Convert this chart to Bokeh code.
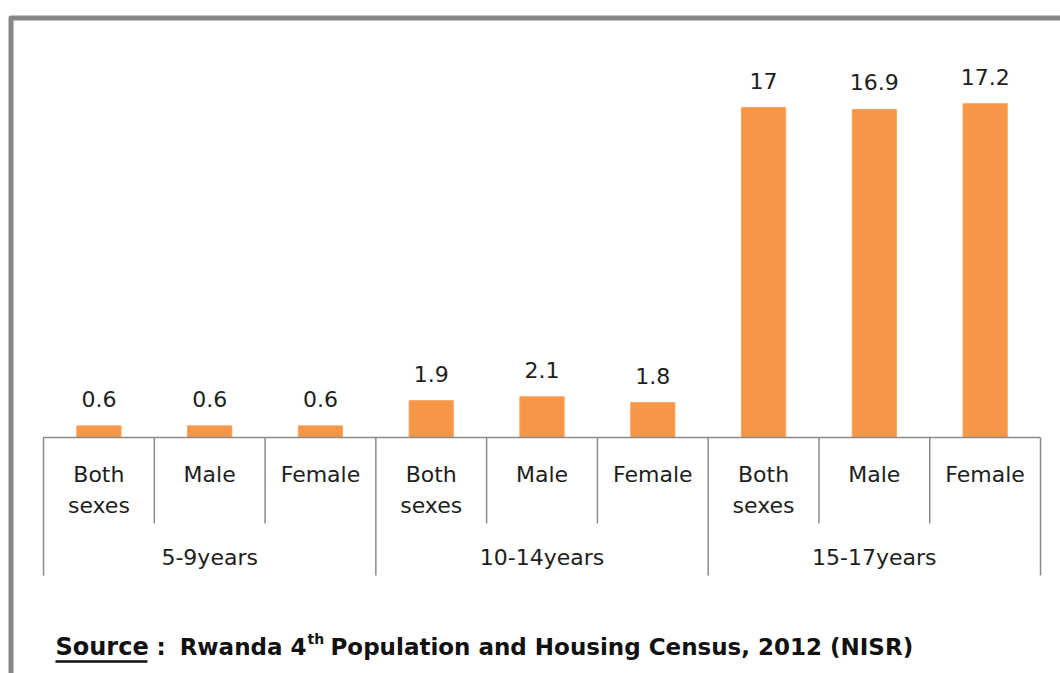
from bokeh.plotting import figure
from bokeh.models import Range1d
from bokeh.core.properties import value
from bokeh.embed import file_html
from bokeh.resources import INLINE

# ---- data ----
groups = ["5-9years", "10-14years", "15-17years"]
sexes = ["Both\nsexes", "Male", "Female"]
values = [0.6, 0.6, 0.6, 1.9, 2.1, 1.8, 17.0, 16.9, 17.2]
value_labels = ["0.6", "0.6", "0.6", "1.9", "2.1", "1.8", "17", "16.9", "17.2"]
source_parts = ["Source", ":", "Rwanda 4", "th", "Population and Housing Census, 2012 (NISR)"]

FONT = "DejaVu Sans"
TXT = "#1e1e1e"
AX = "#8a8a8a"
BAR = "#F79646"

W, H = 1060, 673
OFF = 0  # page offset observed
# pixel mapping: image x = 43 + 110.78*x ; image y = 437 - 19.41*v
PXX, PXY = 110.78, 19.41
x0 = (OFF - 43) / PXX
x1 = (OFF + W - 43) / PXX
y1 = (437 - OFF) / PXY
y0 = (437 - OFF - H) / PXY

p = figure(width=W, height=H, x_range=Range1d(x0, x1), y_range=Range1d(y0, y1),
           x_axis_type=None, y_axis_type=None, toolbar_location=None,
           output_backend="svg", min_border=0)
p.outline_line_color = None
p.background_fill_color = "white"

n = len(values)
xs = [i + 0.5 for i in range(n)]

# frame border (left + top)
bx = (10.5 - 43) / PXX
by = (437 - 17.5) / PXY
p.line([bx, bx, x1 + 1], [y0 - 1, by, by], line_color="#878787", line_width=5, line_join="round")

# bars
p.vbar(x=xs, top=values, bottom=0, width=0.4, fill_color=BAR, line_color="#f8a866", line_width=1)

# value labels
p.text(x=xs, y=values, text=value_labels, text_align="center", text_baseline="bottom",
       y_offset=-19, text_font=value(FONT), text_font_size="22px", text_color=TXT)

# category axis lines
inner_bottom = (437 - 523) / PXY
outer_bottom = (437 - 575) / PXY
p.segment(x0=[0], y0=[0], x1=[n], y1=[0], line_color=AX, line_width=1.5)
inner_x = [i for i in range(n + 1) if i % 3 != 0]
p.segment(x0=inner_x, y0=[0] * len(inner_x), x1=inner_x, y1=[inner_bottom] * len(inner_x),
          line_color=AX, line_width=1.5)
outer_x = [i for i in range(0, n + 1, 3)]
p.segment(x0=outer_x, y0=[0] * len(outer_x), x1=outer_x, y1=[outer_bottom] * len(outer_x),
          line_color=AX, line_width=1.5)

# inner labels
inner_labels = [s for g in groups for s in sexes]
p.text(x=xs, y=[0] * n, text=inner_labels, text_align="center", text_baseline="top",
       y_offset=24, text_font=value(FONT), text_font_size="22px", text_color=TXT,
       text_line_height=1.25)

# outer labels
gx = [3 * k + 1.5 for k in range(len(groups))]
p.text(x=gx, y=[0] * len(groups), text=groups, text_align="center", text_baseline="middle",
       y_offset=557 - 437, text_font=value(FONT), text_font_size="22px", text_color=TXT)

# source line
sy = (437 - 646) / PXY  # text baseline
sx = (55 - 43) / PXX
SF = "DejaVu Sans"
common = dict(text_baseline="alphabetic", text_font=value(SF),
              text_font_style="bold", text_color="#111111")
p.text(x=[sx], y=[sy], text=[source_parts[0]], text_align="left", text_font_size="24px", **common)
p.text(x=[sx], y=[sy], text=[source_parts[1]], text_align="left", x_offset=156 - 55,
       text_font_size="23px", **common)
p.text(x=[sx], y=[sy], text=[source_parts[2]], text_align="right", x_offset=306 - 55,
       text_font_size="23px", **common)
p.text(x=[sx], y=[sy], text=[source_parts[3]], text_align="left", x_offset=307 - 55, y_offset=-8,
       text_font_size="14px", **common)
p.text(x=[sx], y=[sy], text=[source_parts[4]], text_align="left", x_offset=330 - 55,
       text_font_size="23px", **common)
uy = (437 - 661) / PXY
p.segment(x0=[sx], y0=[uy], x1=[(147 - 43) / PXX], y1=[uy], line_color="#111111", line_width=2.5)

open("out.html", "w").write(file_html(p, INLINE))
